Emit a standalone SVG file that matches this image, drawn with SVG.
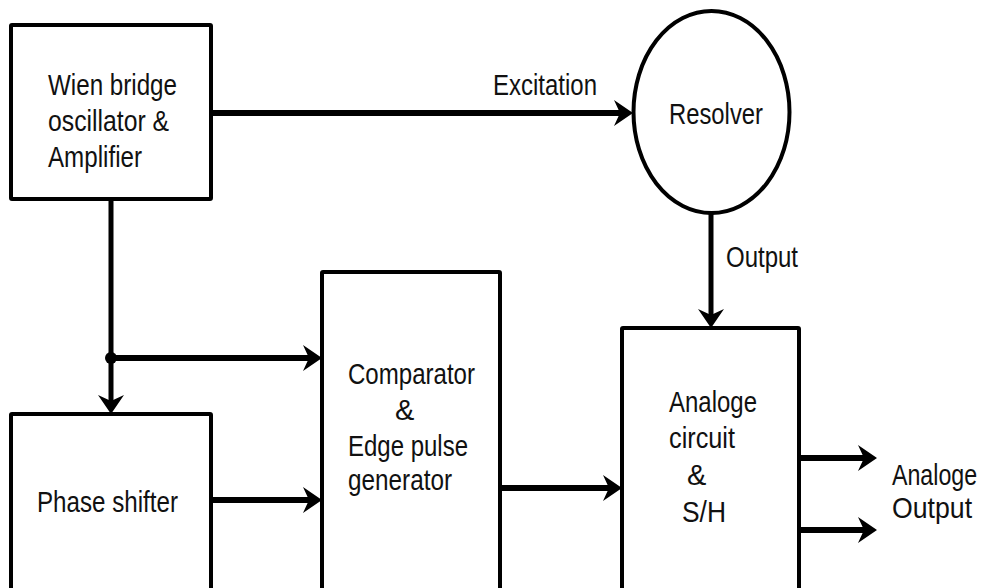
<svg xmlns="http://www.w3.org/2000/svg" width="983" height="588" viewBox="0 0 983 588">
<style>
.box{fill:#fff;stroke:#000;stroke-width:4;stroke-linejoin:round}
.t{font-family:"Liberation Sans",Arial,sans-serif;font-size:29px;fill:#111}
.h{stroke:#000;stroke-width:6;fill:none}
.v{stroke:#000;stroke-width:5;fill:none}
</style>
<defs>
<marker id="ah" viewBox="0 0 20 28" markerUnits="userSpaceOnUse" markerWidth="20" markerHeight="28" refX="7" refY="14" orient="auto">
<path d="M0,1 L19,14 L0,27 L6,14 Z" fill="#000"/>
</marker>
</defs>
<rect width="983" height="588" fill="#fff"/>
<g id="connectors">
<line class="h" x1="211" y1="113" x2="621" y2="113" marker-end="url(#ah)"/>
<line class="v" x1="711" y1="213" x2="711" y2="316" marker-end="url(#ah)"/>
<line class="v" x1="111" y1="199" x2="111" y2="402" marker-end="url(#ah)"/>
<line class="h" x1="111" y1="358" x2="310" y2="358" marker-end="url(#ah)"/>
<circle cx="111" cy="358" r="6" fill="#000"/>
<line class="h" x1="211" y1="500" x2="310" y2="500" marker-end="url(#ah)"/>
<line class="h" x1="500" y1="488" x2="610" y2="488" marker-end="url(#ah)"/>
<line class="h" x1="799" y1="458" x2="865" y2="458" marker-end="url(#ah)"/>
<line class="h" x1="799" y1="530" x2="865" y2="530" marker-end="url(#ah)"/>
<text class="t" x="493" y="95" textLength="104" lengthAdjust="spacingAndGlyphs">Excitation</text>
<text class="t" x="726" y="267" textLength="72" lengthAdjust="spacingAndGlyphs">Output</text>
<text class="t" transform="translate(892,485) scale(0.8,1)">Analoge</text>
<text class="t" transform="translate(892,518) scale(0.92,1)">Output</text>
</g>
<g id="wien">
<rect class="box" x="11" y="25" width="200" height="174" rx="1"/>
<text class="t" x="48" y="95" textLength="129" lengthAdjust="spacingAndGlyphs">Wien bridge</text>
<text class="t" x="48" y="131" textLength="121" lengthAdjust="spacingAndGlyphs">oscillator &amp;</text>
<text class="t" x="48" y="167" textLength="94" lengthAdjust="spacingAndGlyphs">Amplifier</text>
</g>
<g id="resolver">
<ellipse cx="711.5" cy="112" rx="78" ry="101" fill="#fff" stroke="#000" stroke-width="4"/>
<text class="t" x="669" y="124" textLength="94" lengthAdjust="spacingAndGlyphs">Resolver</text>
</g>
<g id="phase">
<rect class="box" x="11" y="414" width="200" height="200" rx="1"/>
<text class="t" x="37" y="512" textLength="141" lengthAdjust="spacingAndGlyphs">Phase shifter</text>
</g>
<g id="comparator">
<rect class="box" x="322" y="272" width="178" height="340" rx="1"/>
<text class="t" x="348" y="384" textLength="127" lengthAdjust="spacingAndGlyphs">Comparator</text>
<text class="t" x="395" y="420">&amp;</text>
<text class="t" x="348" y="456" textLength="120" lengthAdjust="spacingAndGlyphs">Edge pulse</text>
<text class="t" x="348" y="490" textLength="104" lengthAdjust="spacingAndGlyphs">generator</text>
</g>
<g id="analoge">
<rect class="box" x="622" y="328" width="177" height="290" rx="1"/>
<text class="t" x="669" y="412" textLength="88" lengthAdjust="spacingAndGlyphs">Analoge</text>
<text class="t" x="669" y="448" textLength="66" lengthAdjust="spacingAndGlyphs">circuit</text>
<text class="t" x="687" y="485">&amp;</text>
<text class="t" x="682" y="522" textLength="44" lengthAdjust="spacingAndGlyphs">S/H</text>
</g>
</svg>
